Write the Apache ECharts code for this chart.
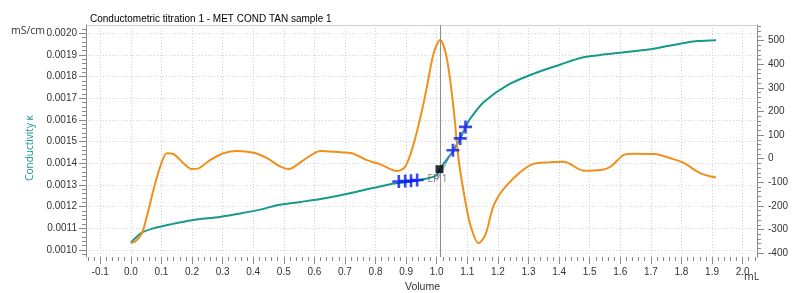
<!DOCTYPE html>
<html><head><meta charset="utf-8">
<script src="https://cdn.jsdelivr.net/npm/echarts@6/dist/echarts.min.js"></script>
<style>html,body{margin:0;padding:0;background:#fff}#c{width:800px;height:293px}</style>
</head><body><div id="c"></div>
<script>
// Conductivity curve (mL, mS/cm)
const condVol = [0, 0.036, 0.074, 0.128, 0.2, 0.292, 0.347, 0.434, 0.478, 0.554, 0.63, 0.739, 0.848, 0.913, 0.968, 1.0, 1.011, 1.055, 1.077, 1.094, 1.11, 1.154, 1.23, 1.318, 1.405, 1.476, 1.536, 1.601, 1.699, 1.754, 1.809, 1.853, 1.913];
const condVal = [0.001034, 0.00108, 0.0011, 0.001118, 0.001138, 0.001153, 0.001166, 0.00119, 0.001207, 0.001222, 0.001238, 0.001269, 0.001304, 0.001315, 0.00133, 0.001345, 0.001376, 0.00146, 0.001515, 0.001568, 0.001607, 0.001683, 0.00176, 0.001814, 0.001856, 0.001888, 0.0019, 0.00191, 0.001926, 0.001941, 0.001955, 0.001964, 0.001968];
// ERC curve (mL, ERC)
const ercVol = [0, 0.014, 0.036, 0.052, 0.074, 0.096, 0.118, 0.139, 0.172, 0.2, 0.221, 0.259, 0.303, 0.347, 0.401, 0.445, 0.489, 0.516, 0.565, 0.62, 0.685, 0.723, 0.772, 0.816, 0.87, 0.897, 0.925, 0.952, 0.968, 0.99, 1.011, 1.033, 1.055, 1.071, 1.088, 1.11, 1.137, 1.159, 1.187, 1.23, 1.306, 1.372, 1.416, 1.481, 1.536, 1.568, 1.612, 1.645, 1.71, 1.776, 1.809, 1.863, 1.913];
const ercVal = [-356, -352, -316, -246, -133, -34, 23, 20, -19, -44, -41, -6, 23, 33, 25, 2, -34, -44, -6, 33, 27, 23, -6, -24, -52, -34, 65, 206, 305, 447, 503, 425, 214, 2, -140, -281, -358, -323, -196, -111, -27, -15, -13, -51, -48, -34, 16, 21, 20, -3, -19, -62, -80];
// evaluation markers
const markVol = [0.876, 0.897, 0.916, 0.936, 1.053, 1.077, 1.094];
const markVal = [0.001316, 0.001318, 0.00132, 0.001323, 0.00146, 0.001515, 0.001568];
const tanVol = [1.0, 1.094];
const tanVal = [0.00132, 0.001568];
const epVol = [1.009];
const epVal = [0.001373];
const epLabel = 'EP 1';
// tick labels
const xTicks = [-0.1, 0.0, 0.1, 0.2, 0.3, 0.4, 0.5, 0.6, 0.7, 0.8, 0.9, 1.0, 1.1, 1.2, 1.3, 1.4, 1.5, 1.6, 1.7, 1.8, 1.9, 2.0];
const leftTicks = [0.0010, 0.0011, 0.0012, 0.0013, 0.0014, 0.0015, 0.0016, 0.0017, 0.0018, 0.0019, 0.0020];
const rightTicks = [-400, -300, -200, -100, 0, 100, 200, 300, 400, 500];

const xMinor = [], lMinor = [], rMinor = [];
for (let i = -7; i <= 102; i++) xMinor.push(+(i * 0.02).toFixed(2));
for (let i = 49; i <= 101; i++) lMinor.push(+(i * 0.00002).toFixed(5));
for (let i = -20; i <= 28; i++) rMinor.push(i * 20);

const XMIN = -0.14, XMAX = 2.047;
const LMIN = 0.000968, LMAX = 0.002038;
const RMIN = -416.5, RMAX = 566.5;
const F = 'Liberation Sans';
const teal = '#17998c', orange = '#f0901c', axisC = '#8a8a8a';

const chart = echarts.init(document.getElementById('c'), null, {renderer: 'canvas'});
const plusPath = 'path://M4,0H6V4H10V6H6V10H4V6H0V4H4Z';
chart.setOption({
  animation: false,
  title: {text: 'Conductometric titration 1 - MET COND TAN sample 1', left: 85, top: 9,
    textStyle: {fontFamily: F, fontSize: 10, fontWeight: 'normal', color: '#000'}},
  grid: {left: 88, right: 43, top: 25, bottom: 36, containLabel: false, outerBoundsMode: 'none'},
  xAxis: [
    {type: 'value', min: XMIN, max: XMAX, position: 'bottom',
     name: 'Volume', nameLocation: 'middle', nameGap: 24,
     nameTextStyle: {fontFamily: F, fontSize: 10.5, color: '#333'},
     axisLine: {show: false, onZero: false},
     axisTick: {show: true, length: 7, customValues: xTicks, lineStyle: {color: axisC}},
     axisLabel: {customValues: xTicks, fontFamily: F, fontSize: 10, color: '#333', margin: 10,
       formatter: v => v.toFixed(1)},
     splitLine: {show: true, lineStyle: {color: '#d4d4d4', type: [1, 2]}}},
    {type: 'value', min: XMIN, max: XMAX, position: 'bottom',
     axisLine: {show: false, onZero: false}, axisLabel: {show: false}, splitLine: {show: false},
     axisTick: {show: true, length: 4, customValues: xMinor, lineStyle: {color: axisC}}},
    {type: 'value', min: XMIN, max: XMAX, position: 'top',
     axisLine: {show: true, onZero: false, lineStyle: {color: '#cfcfcf'}}, axisLabel: {show: false},
     axisTick: {show: false}, splitLine: {show: false}}
  ],
  yAxis: [
    {type: 'value', min: LMIN, max: LMAX, position: 'left', offset: 2,
     name: 'Conductivity κ', nameLocation: 'middle', nameGap: 42, nameRotate: 90,
     nameTextStyle: {fontFamily: 'Open Sans', fontSize: 10, color: teal, padding: [0, 14, 0, 0]},
     axisLine: {show: true, onZero: false, lineStyle: {color: axisC}},
     axisTick: {show: true, length: 7, customValues: leftTicks, lineStyle: {color: axisC}},
     axisLabel: {customValues: leftTicks, fontFamily: F, fontSize: 10, color: '#333', margin: 9,
       formatter: v => v.toFixed(4)},
     splitLine: {show: true, lineStyle: {color: '#d4d4d4', type: [1, 2]}}},
    {type: 'value', min: RMIN, max: RMAX, position: 'right', offset: 0,
     name: 'ERC', nameLocation: 'middle', nameGap: 30, nameRotate: -90,
     nameTextStyle: {fontFamily: 'Open Sans', fontSize: 10.5, color: orange},
     axisLine: {show: true, onZero: false, lineStyle: {color: axisC}},
     axisTick: {show: true, length: 7, customValues: rightTicks, lineStyle: {color: axisC}},
     axisLabel: {customValues: rightTicks, fontFamily: F, fontSize: 10, color: '#333', margin: 11},
     splitLine: {show: false}},
    {type: 'value', min: LMIN, max: LMAX, position: 'left', offset: 2,
     axisLine: {show: false, onZero: false}, axisLabel: {show: false}, splitLine: {show: false},
     axisTick: {show: true, length: 4, customValues: lMinor, lineStyle: {color: axisC}}},
    {type: 'value', min: RMIN, max: RMAX, position: 'right', offset: 0,
     axisLine: {show: false, onZero: false}, axisLabel: {show: false}, splitLine: {show: false},
     axisTick: {show: true, length: 4, customValues: rMinor, lineStyle: {color: axisC}}}
  ],
  graphic: [
    {type: 'text', left: 11, top: 26, style: {text: 'mS/cm', font: '10.5px "Open Sans"', fill: '#333'}},
    {type: 'text', left: 744, top: 272, style: {text: 'mL', font: '10.5px "Open Sans"', fill: '#333'}}
  ],
  series: [
    {type: 'line', name: 'cond', xAxisIndex: 0, yAxisIndex: 0, showSymbol: false, smooth: 0.3,
     lineStyle: {color: teal, width: 2}, itemStyle: {color: teal}, z: 3,
     data: condVol.map((v, i) => [v, condVal[i]]),
     markLine: {silent: true, symbol: 'none', label: {show: false},
       lineStyle: {color: '#8c8c8c', width: 1, type: 'solid'},
       data: [{xAxis: epVol[0]}]}},
    {type: 'line', name: 'erc', xAxisIndex: 0, yAxisIndex: 1, showSymbol: false, smooth: 0.3,
     lineStyle: {color: orange, width: 2}, itemStyle: {color: orange}, z: 4,
     data: ercVol.map((v, i) => [v, ercVal[i]])},
    {type: 'line', xAxisIndex: 0, yAxisIndex: 0, showSymbol: false,
     lineStyle: {color: '#8080e0', width: 1}, z: 5,
     data: tanVol.map((v, i) => [v, tanVal[i]])},
    {type: 'scatter', xAxisIndex: 0, yAxisIndex: 0, symbol: plusPath, symbolSize: 13,
     itemStyle: {color: '#0a1cf0'}, z: 6,
     data: markVol.map((v, i) => [v, markVal[i]])},
    {type: 'scatter', xAxisIndex: 0, yAxisIndex: 0, symbol: 'rect', symbolSize: 8,
     itemStyle: {color: '#000'}, z: 7,
     label: {show: true, position: [-8, 9], formatter: epLabel, fontFamily: 'Open Sans', fontSize: 10, color: '#555'},
     data: epVol.map((v, i) => [v, epVal[i]])}
  ]
});
</script></body></html>
